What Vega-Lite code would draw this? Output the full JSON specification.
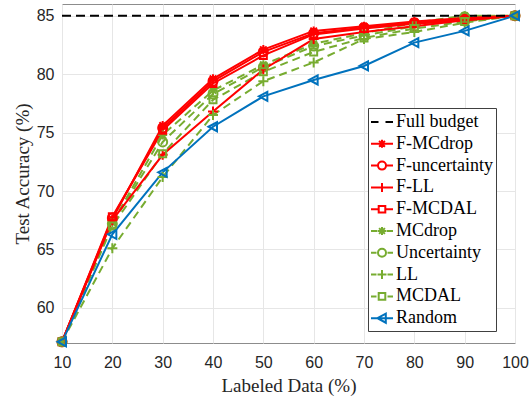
{
  "$schema": "https://vega.github.io/schema/vega-lite/v6.json",
  "width": 453,
  "height": 339,
  "autosize": "none",
  "padding": {"left": 62, "top": 4, "right": 17, "bottom": 59},
  "background": "white",
  "config": {
    "view": {"stroke": "#8c8c8c", "strokeWidth": 1},
    "legend": {"orient": "none", "legendX": 306, "legendY": 104, "labelFont": "Liberation Serif", "labelFontSize": 18, "labelColor": "#000000",
      "symbolSize": 400, "symbolStrokeWidth": 2, "symbolOpacity": 1, "rowPadding": 1.8, "padding": 3, "strokeColor": "#404040", "fillColor": "#ffffff", "labelOffset": 3, "cornerRadius": 0}
  },
  "data": {"values": [
    {"s": "Full budget", "x": 10, "y": 85}, {"s": "Full budget", "x": 100, "y": 85},
    {"s": "F-MCdrop", "x": 10, "y": 57.1}, {"s": "F-MCdrop", "x": 20, "y": 67.6}, {"s": "F-MCdrop", "x": 30, "y": 75.6}, {"s": "F-MCdrop", "x": 40, "y": 79.6}, {"s": "F-MCdrop", "x": 50, "y": 82.1}, {"s": "F-MCdrop", "x": 60, "y": 83.7}, {"s": "F-MCdrop", "x": 70, "y": 84.1}, {"s": "F-MCdrop", "x": 80, "y": 84.5}, {"s": "F-MCdrop", "x": 90, "y": 84.8}, {"s": "F-MCdrop", "x": 100, "y": 85.0},
    {"s": "F-uncertainty", "x": 10, "y": 57.1}, {"s": "F-uncertainty", "x": 20, "y": 67.7}, {"s": "F-uncertainty", "x": 30, "y": 75.4}, {"s": "F-uncertainty", "x": 40, "y": 79.4}, {"s": "F-uncertainty", "x": 50, "y": 81.9}, {"s": "F-uncertainty", "x": 60, "y": 83.5}, {"s": "F-uncertainty", "x": 70, "y": 84.0}, {"s": "F-uncertainty", "x": 80, "y": 84.4}, {"s": "F-uncertainty", "x": 90, "y": 84.7}, {"s": "F-uncertainty", "x": 100, "y": 85.0},
    {"s": "F-LL", "x": 10, "y": 57.1}, {"s": "F-LL", "x": 20, "y": 67.5}, {"s": "F-LL", "x": 30, "y": 73.1}, {"s": "F-LL", "x": 40, "y": 76.8}, {"s": "F-LL", "x": 50, "y": 80.4}, {"s": "F-LL", "x": 60, "y": 83.0}, {"s": "F-LL", "x": 70, "y": 83.6}, {"s": "F-LL", "x": 80, "y": 84.1}, {"s": "F-LL", "x": 90, "y": 84.6}, {"s": "F-LL", "x": 100, "y": 85.0},
    {"s": "F-MCDAL", "x": 10, "y": 57.1}, {"s": "F-MCDAL", "x": 20, "y": 67.8}, {"s": "F-MCDAL", "x": 30, "y": 75.2}, {"s": "F-MCDAL", "x": 40, "y": 79.2}, {"s": "F-MCDAL", "x": 50, "y": 81.6}, {"s": "F-MCDAL", "x": 60, "y": 83.4}, {"s": "F-MCDAL", "x": 70, "y": 83.9}, {"s": "F-MCDAL", "x": 80, "y": 84.3}, {"s": "F-MCDAL", "x": 90, "y": 84.6}, {"s": "F-MCDAL", "x": 100, "y": 85.0},
    {"s": "MCdrop", "x": 10, "y": 57.1}, {"s": "MCdrop", "x": 20, "y": 67.3}, {"s": "MCdrop", "x": 30, "y": 74.8}, {"s": "MCdrop", "x": 40, "y": 78.6}, {"s": "MCdrop", "x": 50, "y": 80.8}, {"s": "MCdrop", "x": 60, "y": 82.6}, {"s": "MCdrop", "x": 70, "y": 83.5}, {"s": "MCdrop", "x": 80, "y": 84.4}, {"s": "MCdrop", "x": 90, "y": 85.0}, {"s": "MCdrop", "x": 100, "y": 85.0},
    {"s": "Uncertainty", "x": 10, "y": 57.1}, {"s": "Uncertainty", "x": 20, "y": 67.2}, {"s": "Uncertainty", "x": 30, "y": 74.2}, {"s": "Uncertainty", "x": 40, "y": 78.3}, {"s": "Uncertainty", "x": 50, "y": 80.6}, {"s": "Uncertainty", "x": 60, "y": 82.4}, {"s": "Uncertainty", "x": 70, "y": 83.3}, {"s": "Uncertainty", "x": 80, "y": 84.1}, {"s": "Uncertainty", "x": 90, "y": 84.9}, {"s": "Uncertainty", "x": 100, "y": 85.0},
    {"s": "LL", "x": 10, "y": 57.1}, {"s": "LL", "x": 20, "y": 65.1}, {"s": "LL", "x": 30, "y": 71.2}, {"s": "LL", "x": 40, "y": 76.5}, {"s": "LL", "x": 50, "y": 79.4}, {"s": "LL", "x": 60, "y": 81.0}, {"s": "LL", "x": 70, "y": 83.0}, {"s": "LL", "x": 80, "y": 83.6}, {"s": "LL", "x": 90, "y": 84.4}, {"s": "LL", "x": 100, "y": 85.0},
    {"s": "MCDAL", "x": 10, "y": 57.1}, {"s": "MCDAL", "x": 20, "y": 67.0}, {"s": "MCDAL", "x": 30, "y": 73.2}, {"s": "MCDAL", "x": 40, "y": 77.8}, {"s": "MCDAL", "x": 50, "y": 80.2}, {"s": "MCDAL", "x": 60, "y": 81.9}, {"s": "MCDAL", "x": 70, "y": 83.1}, {"s": "MCDAL", "x": 80, "y": 83.9}, {"s": "MCDAL", "x": 90, "y": 84.5}, {"s": "MCDAL", "x": 100, "y": 85.0},
    {"s": "Random", "x": 10, "y": 57.1}, {"s": "Random", "x": 20, "y": 66.3}, {"s": "Random", "x": 30, "y": 71.6}, {"s": "Random", "x": 40, "y": 75.5}, {"s": "Random", "x": 50, "y": 78.1}, {"s": "Random", "x": 60, "y": 79.5}, {"s": "Random", "x": 70, "y": 80.7}, {"s": "Random", "x": 80, "y": 82.7}, {"s": "Random", "x": 90, "y": 83.7}, {"s": "Random", "x": 100, "y": 85.0}
  ]},
  "encoding": {
    "x": {"field": "x", "type": "quantitative",
      "scale": {"domain": [10, 100], "nice": false, "zero": false},
      "axis": {"values": [10, 20, 30, 40, 50, 60, 70, 80, 90, 100], "grid": true, "gridColor": "#e6e6e6", "ticks": false, "domain": false,
        "labelFont": "Liberation Sans", "labelFontSize": 16, "labelColor": "#262626", "labelPadding": 11, "labelFlush": false, "labelOverlap": false,
        "title": "Labeled Data (%)", "titleFont": "Liberation Serif", "titleFontSize": 19, "titleFontWeight": "normal", "titleColor": "#262626", "titlePadding": 6}},
    "y": {"field": "y", "type": "quantitative",
      "scale": {"domain": [57, 86], "nice": false, "zero": false},
      "axis": {"values": [60, 65, 70, 75, 80, 85], "grid": true, "gridColor": "#e6e6e6", "ticks": false, "domain": false,
        "labelFont": "Liberation Sans", "labelFontSize": 16, "labelColor": "#262626", "labelPadding": 8, "labelFlush": false, "labelOverlap": false,
        "title": "Test Accuracy (%)", "titleFont": "Liberation Serif", "titleFontSize": 19, "titleFontWeight": "normal", "titleColor": "#262626", "titlePadding": 4}},
    "color": {"field": "s", "type": "nominal", "title": null,
      "scale": {"domain": ["Full budget", "F-MCdrop", "F-uncertainty", "F-LL", "F-MCDAL", "MCdrop", "Uncertainty", "LL", "MCDAL", "Random"],
        "range": ["#000000", "#ff0000", "#ff0000", "#ff0000", "#ff0000", "#77ac30", "#77ac30", "#77ac30", "#77ac30", "#0072bd"]}}
  },
  "layer": [
    {
      "transform": [{"filter": {"field": "s", "oneOf": ["MCdrop", "Uncertainty", "LL", "MCDAL"]}}],
      "mark": {"type": "line", "strokeWidth": 2, "strokeDash": [8, 5]}
    },
    {
      "transform": [{"filter": {"field": "s", "oneOf": ["F-MCdrop", "F-uncertainty", "F-LL", "F-MCDAL", "Random"]}}],
      "mark": {"type": "line", "strokeWidth": 2}
    },
    {
      "transform": [{"filter": {"field": "s", "oneOf": ["Full budget"]}}],
      "mark": {"type": "line", "strokeWidth": 2, "strokeDash": [9, 5]}
    },
    {
      "transform": [{"filter": {"field": "s", "oneOf": ["F-MCdrop", "MCdrop"]}}],
      "mark": {"type": "point", "filled": false, "strokeWidth": 2, "size": 100, "opacity": 1, "shape": "M-0.9,0L0.9,0M0,-0.9L0,0.9M-0.65,-0.65L0.65,0.65M-0.65,0.65L0.65,-0.65"}
    },
    {
      "transform": [{"filter": {"field": "s", "oneOf": ["F-uncertainty", "Uncertainty"]}}],
      "mark": {"type": "point", "filled": false, "strokeWidth": 2, "size": 100, "opacity": 1, "shape": "M0.9,0A0.9,0.9,0,1,1,-0.9,0A0.9,0.9,0,1,1,0.9,0Z"}
    },
    {
      "transform": [{"filter": {"field": "s", "oneOf": ["F-LL", "LL"]}}],
      "mark": {"type": "point", "filled": false, "strokeWidth": 2, "size": 100, "opacity": 1, "shape": "M-1,0L1,0M0,-1L0,1"}
    },
    {
      "transform": [{"filter": {"field": "s", "oneOf": ["F-MCDAL", "MCDAL"]}}],
      "mark": {"type": "point", "filled": false, "strokeWidth": 2, "size": 100, "opacity": 1, "shape": "M-0.7,-0.7L0.7,-0.7L0.7,0.7L-0.7,0.7Z"}
    },
    {
      "transform": [{"filter": {"field": "s", "oneOf": ["Random"]}}],
      "mark": {"type": "point", "filled": false, "strokeWidth": 2, "size": 100, "opacity": 1, "shape": "M-0.9,0L0.8,-0.9L0.8,0.9Z"}
    },
    {
      "transform": [{"filter": "false"}],
      "mark": {"type": "point", "filled": false, "strokeWidth": 2, "size": 400},
      "encoding": {
        "shape": {"field": "s", "type": "nominal", "title": null,
          "scale": {"domain": ["Full budget", "F-MCdrop", "F-uncertainty", "F-LL", "F-MCDAL", "MCdrop", "Uncertainty", "LL", "MCDAL", "Random"],
            "range": [
              "M-1.1,0L-0.35,0M0.35,0L1.1,0",
              "M-1.1,0L1.1,0M-0.4,0L0.4,0M0,-0.4L0,0.4M-0.29,-0.29L0.29,0.29M-0.29,0.29L0.29,-0.29",
              "M-1.1,0L-0.4,0M0.4,0L1.1,0M0.4,0A0.4,0.4,0,1,1,-0.4,0A0.4,0.4,0,1,1,0.4,0Z",
              "M-1.1,0L1.1,0M0,-0.45L0,0.45",
              "M-1.1,0L-0.33,0M0.33,0L1.1,0M-0.33,-0.33L0.33,-0.33L0.33,0.33L-0.33,0.33Z",
              "M-1.1,0L-0.45,0M0.45,0L1.1,0M-0.4,0L0.4,0M0,-0.4L0,0.4M-0.29,-0.29L0.29,0.29M-0.29,0.29L0.29,-0.29",
              "M-1.1,0L-0.55,0M0.55,0L1.1,0M0.4,0A0.4,0.4,0,1,1,-0.4,0A0.4,0.4,0,1,1,0.4,0Z",
              "M-1.1,0L-0.55,0M0.55,0L1.1,0M-0.45,0L0.45,0M0,-0.45L0,0.45",
              "M-1.1,0L-0.55,0M0.55,0L1.1,0M-0.33,-0.33L0.33,-0.33L0.33,0.33L-0.33,0.33Z",
              "M-1.1,0L1.1,0M-0.45,0L0.38,-0.45L0.38,0.45Z"
            ]}}
      }
    }
  ]
}
